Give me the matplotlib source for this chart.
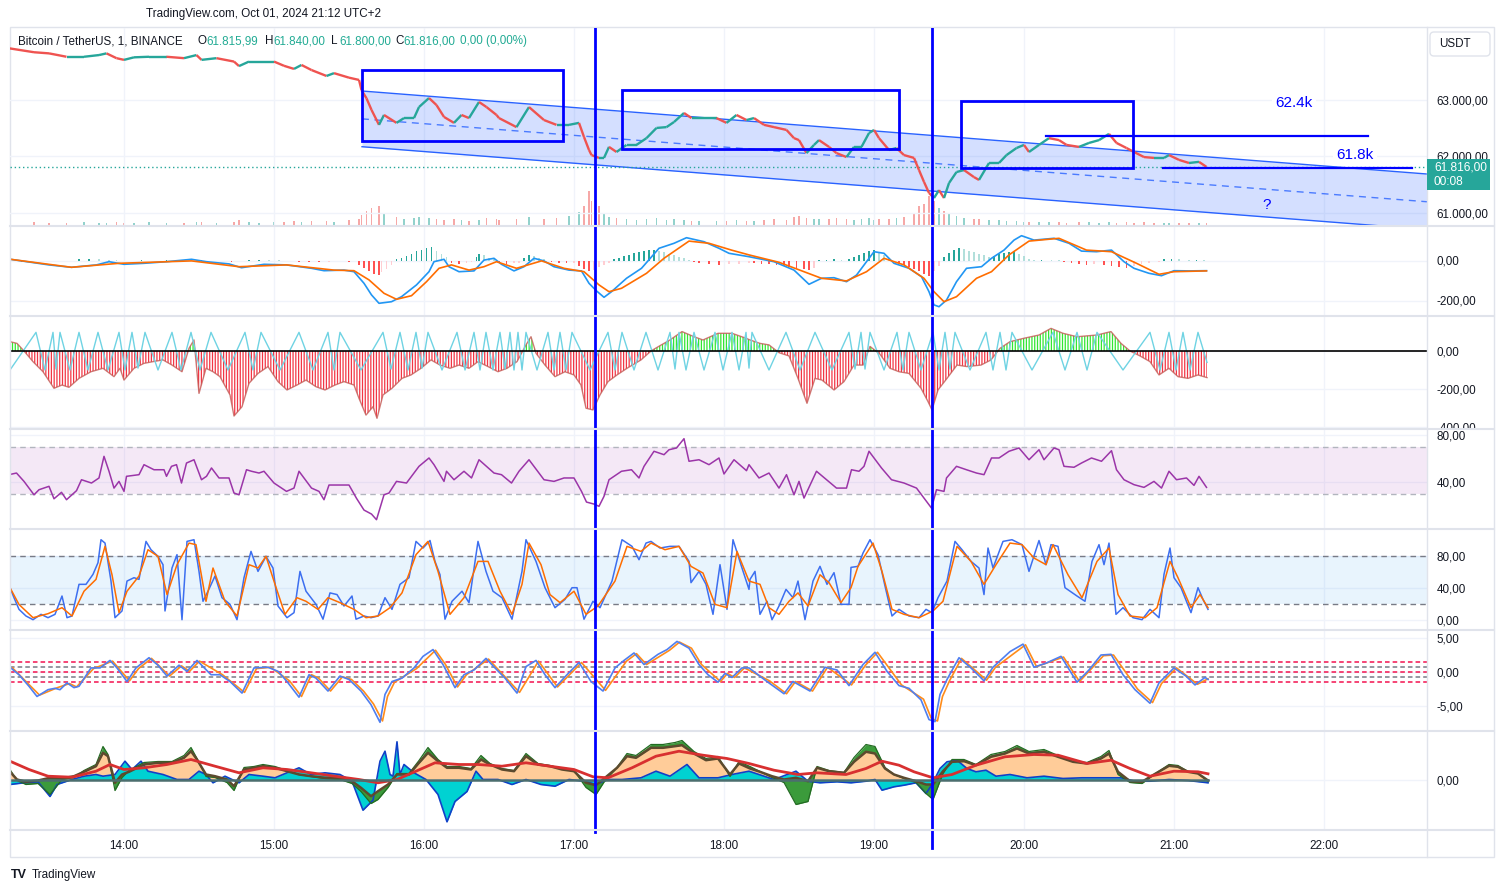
import numpy as np
import matplotlib
matplotlib.use("Agg")
import matplotlib.pyplot as plt
from matplotlib.collections import LineCollection
from matplotlib.patches import Rectangle, FancyBboxPatch
from matplotlib.lines import Line2D
from matplotlib.transforms import Bbox, TransformedBbox

plt.rcParams['font.family'] = ['Liberation Sans', 'DejaVu Sans']
plt.rcParams['hatch.linewidth'] = 0.9

# === time axis: minutes after 13:00 ===
HOUR_T = [60, 120, 180, 240, 300, 360, 420, 480, 540]
HOUR_LABELS = ["14:00", "15:00", "16:00", "17:00", "18:00", "19:00", "20:00", "21:00", "22:00"]

# === price (closes) ===
PRICE_T = [14, 24, 30, 37, 44, 50, 53, 57, 60, 64,
           70, 77, 84, 89, 91, 97, 104, 106, 110, 114,
           120, 124, 128, 131, 135, 141, 144, 150, 154, 155,
           157, 159, 162, 164, 169, 172, 176, 178, 182, 185,
           188, 192, 195, 198, 202, 205, 209, 210, 217, 222,
           228, 233, 238, 242, 244, 246, 247, 250, 252, 254,
           257, 261, 265, 269, 273, 277, 280, 284, 287, 290,
           297, 301, 305, 309, 312, 316, 320, 325, 328, 330,
           333, 336, 338, 342, 345, 349, 352, 355, 358, 360,
           362, 366, 369, 372, 376, 378, 380, 382, 384, 386,
           388, 390, 393, 396, 400, 402, 406, 410, 413, 417,
           420, 422, 426, 430, 434, 437, 442, 446, 450, 454,
           457, 461, 464, 468, 472, 476, 478, 482, 486, 490,
           493]
PRICE = [63915, 63845, 63825, 63765, 63765, 63795, 63825, 63740, 63710, 63755,
         63765, 63765, 63740, 63795, 63710, 63740, 63680, 63600, 63680, 63680,
         63680, 63605, 63550, 63620, 63530, 63425, 63475, 63395, 63355, 63175,
         63030, 62825, 62560, 62735, 62595, 62680, 62680, 62875, 63035, 62910,
         62700, 62595, 62735, 62680, 62965, 62875, 62735, 62680, 62520, 62875,
         62645, 62560, 62560, 62595, 62345, 62115, 62025, 61975, 61975, 62170,
         62080, 62205, 62205, 62325, 62505, 62520, 62610, 62770, 62680, 62680,
         62680, 62595, 62735, 62645, 62680, 62560, 62520, 62470, 62325, 62290,
         62060, 62205, 62290, 62170, 62060, 61990, 62170, 62170, 62415, 62470,
         62325, 62115, 62150, 62025, 61975, 61760, 61550, 61355, 61265, 61405,
         61265, 61530, 61725, 61760, 61635, 61585, 61885, 61885, 62025, 62150,
         62205, 62080, 62205, 62325, 62290, 62205, 62170, 62240, 62290, 62400,
         62240, 62150, 62080, 61990, 61975, 61975, 62025, 61940, 61885, 61905,
         61816]
VOLUME = [30, 40, 30, 35, 40, 30, 35, 40, 30, 35,
          40, 30, 35, 45, 40, 35, 40, 60, 45, 35,
          40, 45, 50, 40, 55, 50, 45, 60, 70, 110,
          150, 180, 200, 130, 90, 70, 80, 90, 80, 70,
          60, 70, 60, 55, 60, 80, 70, 60, 75, 90,
          70, 80, 100, 140, 200, 350, 250, 200, 120, 90,
          80, 70, 60, 70, 80, 60, 70, 60, 50, 55,
          50, 55, 60, 50, 55, 60, 70, 60, 90, 100,
          80, 70, 75, 70, 80, 70, 60, 70, 80, 60,
          70, 75, 80, 90, 120, 200, 220, 300, 250, 180,
          150, 120, 100, 80, 70, 75, 60, 60, 55, 50,
          45, 40, 45, 40, 40, 35, 40, 40, 35, 40,
          35, 40, 35, 40, 35, 30, 35, 30, 35, 30,
          30]
LAST_PRICE = 61816

# drawings on the price pane
CH_T = [155.2, 581.2]
CH_TOP = [63159, 61690]
CH_MID = [62666, 61199]
CH_BOT = [62173, 60708]
BOX_T = [(155.2, 235.6), (259.2, 370.0), (394.8, 463.6)]
BOX_P = [(62274, 63531), (62133, 63177), (61796, 62982)]
HLINE_T = [(428.8, 557.6), (475.6, 575.2)]
HLINE_P = [62368, 61796]
NOTE_T = [528.0, 552.4, 517.2]
NOTE_P = [62947, 62027, 61142]
NOTE_TXT = ["62.4k", "61.8k", "?"]
VLINE_T = [248.4, 383.2]

# === MACD ===
MACD_T = [14, 30, 39, 49, 54, 60, 68, 77, 87, 93,
          102, 107, 116, 125, 135, 140, 148, 152, 156, 159,
          162, 167, 171, 177, 182, 184, 188, 190, 194, 200,
          204, 208, 211, 216, 220, 224, 228, 232, 238, 243,
          246, 249, 252, 255, 261, 267, 274, 280, 285, 292,
          298, 302, 310,
          320, 328, 334, 339, 344, 349, 353, 357, 360, 364,
          368, 374, 379, 382, 384, 386, 389, 393, 397, 403,
          407, 412, 416, 419, 424, 432, 438, 443, 449, 455,
          460, 464, 470, 475, 480, 486, 493]
MACD = [7, -22, -34, -22, -6, -19, -14, -6, 6, -6,
        -17, -36, -19, -22, -39, -51, -48, -56, -114, -172,
        -214, -206, -181, -122, -56, -6, 6, -31, -56, -52,
        2, 11, -19, -52, -31, 11, -2, -31, -48, -52,
        -114, -152, -184, -156, -89, -39, 61, 86, 114, 94,
        61, 36, 19,
        -6, -48, -119, -89, -86, -106, -73, -6, 44, 36,
        -14, -39, -81, -156, -222, -231, -198, -106, -39, -31,
        11, 52, 102, 124, 102, 111, 86, 47, 44, 52,
        -6, -39, -64, -76, -51, -52, -51]
SIGNAL_T = [14, 39, 58, 87, 106, 125, 144, 152, 158, 164,
            169, 175, 181, 186, 191, 198, 204, 209, 217, 227,
            236, 244, 250, 254, 259, 269, 276, 286, 294, 303,
            310, 322, 332, 339, 349, 357, 364, 372, 380, 384,
            388, 393, 401, 407, 414, 422, 434, 445, 455, 465,
            474, 480, 493]
SIGNAL = [7, -34, -14, -2, -31, -22, -48, -51, -97, -164,
          -194, -176, -106, -39, -22, -48, -31, -6, -39, -2,
          -39, -56, -122, -156, -139, -64, 11, 97, 86, 52,
          28, -9, -56, -89, -102, -56, 11, -22, -89, -156,
          -206, -181, -89, -56, 28, 97, 111, 52, 44, -14,
          -69, -56, -52]
HIST_T = [14, 19, 24, 29, 34, 39,
          42, 46, 50, 54,
          57, 62, 67, 72, 77, 82, 87, 91,
          95, 99, 103, 107,
          110, 114, 118, 122,
          126, 130, 134, 138, 142, 146, 150,
          154, 156, 158, 160, 162,
          163, 165, 167,
          169, 171, 173, 175, 177, 179, 181, 183,
          185, 187, 189,
          191, 194, 197, 199,
          201, 202, 204,
          206, 208,
          210, 213, 216, 218,
          220, 222, 224,
          226, 228,
          231, 234, 237, 240,
          242, 244, 246, 248, 250, 252, 254,
          256, 258, 260, 262, 264, 266, 268, 270, 272,
          274, 276, 278, 280, 282, 284, 286,
          288, 290, 294, 298, 302, 306, 310,
          312, 315, 318, 321, 324, 326, 329, 332, 334, 336,
          338, 341, 344, 347,
          350, 352, 354, 356, 358, 360,
          362, 364, 366,
          368, 370, 372, 374, 376, 378, 380, 382,
          384, 386,
          388, 390, 392, 394,
          396, 398, 400, 402, 404, 406,
          408, 410, 412, 414, 416,
          418, 420, 422,
          424, 427, 431, 434,
          436, 439, 442, 445, 448, 452, 455, 458, 461, 464,
          467, 470, 474,
          476, 479, 482, 486, 489, 492]
HIST = [-4, -5, -4, -3, -4, -3,
        6, 9, 8, 5,
        2, -2, 3, -2, 2, 3, -2, 2,
        -4, -3, -5, -4,
        3, 4, 3, 2,
        -4, -5, -5, -6, -5, -4, -5,
        -20, -36, -53, -66, -70,
        -55, -40, -20,
        8, 14, 25, 35, 46, 55, 62, 66,
        50, 35, 20,
        -10, -15, -12, -8,
        20, 35, 30,
        15, 8,
        -10, -15, -14, -10,
        15, 30, 25,
        12, 6,
        -8, -10, -12, -10,
        -25, -40, -53, -45, -30, -20, -10,
        10, 15, 22, 30, 38, 45, 50, 55, 55,
        48, 42, 35, 28, 20, 12, 5,
        -5, -10, -15, -20, -18, -15, -12,
        -12, -15, -18, -20, -25, -30, -36, -42, -45, -35,
        4, 5, 6, 4,
        10, 18, 28, 38, 46, 52,
        40, 28, 15,
        -5, -12, -20, -30, -40, -52, -65, -78,
        -50, -25,
        20, 40, 55, 65,
        58, 50, 42, 35, 28, 20,
        25, 32, 38, 44, 46,
        35, 22, 10,
        3, 4, 3, 2,
        -6, -10, -15, -20, -18, -22, -28, -34, -36, -25,
        -15, -10, -5,
        6, 7, 6, 5, 5, 4]

# === momentum histogram + fast cyan oscillator ===
MOM_T = [14.4, 17.2, 20, 23.6, 27.6, 32, 35.2, 38, 42, 46.8,
         51.6, 56, 58.4, 60, 64, 68, 71.6, 75.6, 79.2, 83.2,
         86, 88, 90, 92.8, 95.6, 98.4, 102.4, 104, 107.2, 110,
         113.6, 117.6, 121.6, 125.2, 129.2, 132.8, 136.8, 140.4, 144.4, 148,
         152, 154, 156.8, 159.6, 161.2, 163.6, 167.2, 171.2, 174.8, 178.8,
         182.8, 186.4, 190.4, 194, 198, 201.6, 205.6, 209.6, 213.2, 217.2,
         220.8, 222.8, 224.8, 228.4, 232.4, 236.4, 240, 242.8, 244.8, 247.6,
         250.4, 253.6, 257.2, 261.2, 266.8, 270.8, 274.4, 278.4, 283.2, 288,
         291.6, 297.6, 303.2, 308.8,
         310.4, 314.4, 318, 322, 326, 329.6, 333.2, 336.4, 339.2, 344,
         348, 352, 355.6, 358.4, 362.4, 366.4, 370, 374, 378.8, 381.6,
         383.2, 385.6, 389.2, 393.2, 397.2, 402.8, 406.8, 410.4, 414.4, 420,
         426, 430.8, 435.6, 441.2, 449.2, 454.8, 458.8, 462.4, 466.4, 470.4,
         474, 478, 481.6, 485.6, 489.6, 493.2]
MOM = [49, 40, 0, -56, -109, -196, -179, -191, -144, -109,
       -91, -135, -91, -153, -91, -65, -56, -47, -74, -109,
       14, 58, -223, -91, -109, -135, -231, -342, -293, -170,
       -118, -82, -161, -205, -179, -153, -188, -205, -179, -161,
       -179, -249, -337, -293, -354, -231, -196, -144, -126, -91,
       -47, -74, -91, -74, -91, -56, -82, -109, -91, -56,
       32, 75, -12, -74, -135, -109, -126, -179, -301, -310,
       -231, -161, -126, -91, -47, 0, 28, 58, 102, 75,
       58, 93, 93, 67,
       58, 40, 32, -9, -26, -144, -275, -144, -153, -205,
       -161, -74, -74, 24, -17, -91, -109, -118, -196, -266,
       -310, -205, -144, -74, -82, -74, -47, 14, 49, 67,
       84, 119, 93, 75, 84, 102, 40, 0, -26, -56,
       -126, -91, -135, -144, -126, -140]
FAST_T = [14.4, 24.8, 28.4, 31.6, 32.8, 34.4, 38.4, 42, 45.6, 49.6,
          53.6, 58, 60.4, 63.2, 65.6, 68.4, 73.6, 79.2, 82.8, 86.8,
          90.4, 94.8, 101.6, 108.4, 111.6, 114.8, 122.4, 130, 135.6, 141.6,
          144, 146.4, 154.8, 163.6, 166.8, 170.4, 173.6, 176.8, 179.2, 181.6,
          187.2, 193.2, 196.4, 200, 202.4, 204.8, 207.6, 210.4, 212.4, 214.4,
          216, 217.6, 219.2, 220.8, 225.2, 229.6, 232, 234.4, 236.8, 239.2,
          246.4, 253.6, 256.4, 259.2, 264, 268.8, 273.6, 278.4, 280.4, 282,
          284.8, 288, 292, 296.4, 299.6, 303.2, 306, 308.8, 310, 311.2,
          318, 324.8, 330.4, 336.4, 343.2, 350, 352.4, 354.8, 356.4, 358.4,
          364, 369.2, 371.6, 374, 378.8, 383.6, 386, 388.4, 390.4, 392.4,
          398.4, 404.8, 407.6, 410.4, 412.8, 415.2, 423.2, 431.6, 436.4, 441.2,
          445.2, 449.2, 459.6, 470.4, 474.4, 478, 480.8, 483.6, 486.4, 489.6,
          493.2]
FAST = [-100, 98, -100, 98, -95, 98, -100, 98, -100, 98,
        -100, 98, -100, 98, -90, 98, -100, 98, -100, 98,
        -100, 98, -100, 98, -100, 98, -100, 98, -100, 98,
        -100, 98, -100, 98, -95, 98, -100, 98, -90, 98,
        -100, 98, -100, 98, -100, 98, -100, 98, -95, 98,
        -100, 98, -100, 98, -100, 98, -100, 98, -100, 98,
        -100, 98, -100, 98, -100, 98, -100, 98, -95, 98,
        -100, 98, -100, 98, -100, 98, -100, 98, -90, 98,
        -100, 98, -100, 98, -100, 98, -95, 98, -95, 98,
        -100, 98, -100, 98, -100, 98, -100, 98, -95, 98,
        -100, 98, -100, 98, -100, 98, -100, 98, -100, 98,
        -100, 98, -100, 98, -100, 98, -100, 98, -100, 98,
        -60]

# === RSI ===
RSI_T = [14, 17, 20, 24, 26, 30, 32, 35, 37, 41,
         43, 47, 50, 52, 54, 56, 58, 60, 61, 66,
         68, 72, 76, 77, 79, 81, 83, 85, 88, 91,
         93, 95, 98, 102, 104, 106, 109, 111, 114, 116,
         120, 125, 128, 130, 135, 138, 140, 142, 146, 150,
         153, 156, 159, 161, 164, 166, 169, 173, 178, 182,
         184, 188, 189, 192, 196, 199, 202, 205, 208, 211,
         215, 218, 222, 225, 228, 232, 236, 240, 243, 245,
         248, 250, 252, 254, 259, 263, 266, 268, 272, 276,
         278, 281, 284, 286, 290, 294, 298, 300, 304, 309,
         310, 314, 318, 322, 325, 328, 330, 332, 337, 341,
         345, 349, 351, 354, 356, 358, 363, 367, 372, 377,
         380, 383, 385, 388, 389, 393, 397, 401, 404, 407,
         410, 414, 418, 422, 426, 428, 432, 434, 436, 440,
         443, 447, 451, 455, 457, 460, 464, 468, 472, 475,
         478, 481, 485, 488, 490, 493]
RSI = [46.5, 47.9, 40.8, 29.4, 33.7, 36.6, 26, 31.5, 25.2, 32.9,
       42.2, 39.4, 43.7, 62.1, 49.4, 35.1, 40.8, 32.3, 45.1, 46.5,
       55, 50.7, 50.7, 45.1, 53.6, 55, 39.4, 56.4, 59.2, 42.2,
       45.1, 52.2, 43.7, 43.7, 30.9, 29.4, 50.7, 49.4, 47.9, 49.4,
       39.4, 32.3, 35.1, 49.4, 35.1, 32.3, 25.2, 37.7, 37.7, 37.7,
       26.4, 16.4, 13, 8.2, 29.4, 30.9, 40.8, 39.4, 53.6, 60.7,
       55, 40.8, 49.4, 42.2, 49.4, 43.7, 59.2, 53.6, 47.9, 46.5,
       39.4, 49.4, 59.2, 50.7, 42.2, 40.8, 43.7, 43.7, 32.3, 23.2,
       21.5, 19.6, 28.1, 42.2, 49.4, 50.7, 43.7, 53.6, 66.4, 63.5,
       67.7, 69.2, 77.1, 57.9, 59.2, 55, 60.7, 47.1, 59.2, 49.9,
       55, 43.7, 47.9, 35.1, 46.5, 29.4, 40.8, 26.6, 49.4, 42.2,
       35.1, 35.1, 50.7, 49.4, 53.6, 66.4, 52.2, 42.2, 39.4, 35.1,
       26.6, 18.1, 33.7, 32.3, 43.7, 53.6, 50.7, 47.9, 46.5, 60.7,
       60.7, 66.4, 69.2, 59.2, 67.7, 59.2, 69.2, 67.7, 53.6, 52.8,
       56.4, 60.7, 57.9, 66.9, 50.7, 42.2, 38, 35.7, 40.8, 35.1,
       49.4, 42.2, 43.7, 37.4, 45.1, 35.7]

# === Stochastic ===
K_T = [14.4, 16, 18, 20.8, 23.6, 26.8, 29.6, 32.4, 35.2, 37.2,
       39.2, 42, 44.8, 47.6, 49.6, 50.8, 52.4, 54.8, 56.4, 59.2,
       61.2, 64, 66, 68.8, 70.8, 73.6, 75.6, 76.4, 79.2, 81.2,
       83.2, 85.2, 88, 90, 91.6, 93.6, 96.4, 99.2, 102.4, 105.2,
       108, 110.8, 113.6, 116.8, 119.6, 121.6, 125.2, 128, 130.4, 132.8,
       136.8, 139.6, 142.4, 145.2, 148, 151.2, 152.8, 156, 158.8, 161.6,
       164.4, 167.2, 170.4, 174, 176.8, 179.6, 182.4, 184.4, 186.4, 188.4,
       191.2, 195.2, 198, 201.6, 204.8, 207.6, 211.2, 215.2, 219.2, 220.8,
       224.8, 228.4, 232.4, 236.4, 239.2, 241.2, 244, 247.6, 250.4, 255.2,
       259.2, 263.2, 266, 268.8, 270.8, 274.4, 278.4, 282, 286, 286.8,
       290, 292.8, 295.6, 298.4, 301.2, 303.6, 307.2, 310,
       310.4, 312.4, 314.4, 317.2, 319.2, 322, 324.8, 327.6, 329.6, 332.4,
       335.6, 338.4, 341.2, 344, 346.8, 350, 350.8, 353.6, 355.6, 358.4,
       361.6, 364.4, 367.2, 370, 374, 378, 380.8, 383.2, 385.6, 389.2,
       392.4, 395.2, 398.8, 402, 404, 405.6, 407.6, 411.6, 415.2, 419.2,
       422, 426, 428.8, 430.8, 433.6, 436.4, 441.2, 444.4, 447.2, 450,
       452, 454, 456.8, 459.6, 463.6, 467.2, 470.4, 474, 476, 478.4,
       480, 482.8, 486.8, 489.6, 491.6, 493.6]
K = [40, 27.5, 12.9, 4.6, 0, 6.7, 2.5, 6.7, 29.6, 2.5,
     4.6, 44.2, 44.2, 56.7, 71.3, 100, 95.8, 48.3, 2.5, 10.9,
     48.3, 52.5, 50.4, 97.9, 87.5, 79.2, 68.8, 10.9, 64.6, 81.3,
     0, 97.9, 100, 60.4, 23, 35.6, 54.6, 27.5, 19.2, 0,
     52.5, 85.4, 60.4, 79.2, 64.6, 17.1, 2.5, 8.8, 60.4, 35.6,
     19.2, 0.6, 33.5, 31.4, 17.1, 29.6, 0.6, 4.6, 2.5, 4.6,
     27.5, 12.9, 44.2, 52.5, 97.9, 89.6, 99, 72.9, 56.2, 0.6,
     23, 35.6, 21.3, 97.9, 60.4, 35.6, 27.5, 0.6, 60.4, 100,
     72.9, 40, 15, 25.4, 40, 40, 0.6, 23, 15, 48.3,
     100, 91.7, 75, 95.8, 97.9, 89.6, 91.7, 91.7, 72.9, 46.3,
     60.4, 44.2, 6.7, 68.8, 12.9, 100, 64.6, 37.9,
     50.4, 60.4, 6.7, 23, 0, 17.1, 37.9, 27.5, 48.3, 0,
     48.3, 66.7, 44.2, 58.8, 19.2, 19.2, 65.4, 66.7, 83.3, 100,
     81.3, 42.1, 4.6, 12.9, 4.6, 2.5, 12.9, 8.8, 27.5, 48.3,
     97.9, 87.5, 72.9, 64.6, 31.4, 89.6, 64.6, 97.9, 100, 93.8,
     60.4, 99, 68.8, 93.8, 91.7, 40, 29.6, 23, 72.9, 93.8,
     68.8, 95.8, 6.7, 15, 2.5, 0, 12.9, 2.5, 56.7, 89.6,
     52.5, 40, 8.8, 40, 25.4, 12.9]
D_T = [14.4, 18, 23.6, 29.6, 35.2, 39.2, 44, 48.8, 52.4, 55.2,
       58, 61.2, 66, 69.6, 73.6, 77.2, 81.2, 86, 88.8, 92.8,
       95.6, 100.4, 105.2, 110, 113.6, 116.8, 120.4, 124.4, 129.2, 132.8,
       137.6, 141.6, 146.4, 152, 156.8, 161.6, 166.4, 171.2, 176.8, 181.6,
       185.6, 190.4, 196, 201.6, 205.6, 210.4, 215.2, 219.2, 222, 226.8,
       230.4, 234.4, 240, 244.8, 249.6, 256.4, 261.2, 266.8, 270.8, 276.4,
       282, 286.8, 291.6, 296.4, 301.2, 305.2, 310,
       314.4, 318, 322, 326, 329.6, 333.6, 338.4, 342, 346.8, 350.8,
       353.6, 359.6, 363.2, 367.2, 372, 378, 383.6, 387.6, 393.2, 398.8,
       404, 408.8, 414.4, 419.2, 424, 428.8, 431.6, 437.6, 443.2, 449.2,
       454, 457.6, 462.4, 468.4, 473.2, 478.4, 481.6, 486.8, 490.4, 493.6]
D = [40, 19, 2.5, 7.5, 15, 4.6, 35.6, 50.4, 91.7, 56.2,
     8.8, 35.6, 54.6, 87.5, 79.2, 31.4, 68.8, 95.8, 93.8, 23,
     64.6, 23, 4.6, 68.8, 64.6, 79.2, 44.2, 6.7, 27.5, 23,
     12.9, 27.5, 21.3, 12.9, 2.5, 4.6, 15, 33.5, 81.3, 97.9,
     60.4, 6.7, 27.5, 72.9, 72.9, 35.6, 6.7, 44.2, 95.8, 68.8,
     31.4, 21.3, 35.6, 6.7, 17.1, 48.3, 91.7, 85.4, 95.8, 87.5,
     91.7, 66.7, 58.3, 19.2, 15, 85.4, 48.3,
     44.2, 15, 6.7, 23, 33.5, 17.1, 56.2, 46.3, 21.3, 40,
     66.7, 95.8, 60.4, 12.9, 6.7, 2.5, 10.9, 23, 91.7, 72.9,
     44.2, 68.8, 95.8, 93.8, 77.1, 68.8, 93.8, 56.2, 27.5, 72.9,
     89.6, 31.4, 4.6, 2.5, 15, 72.9, 52.5, 15, 31.4, 15]

# === wave oscillator ===
WAVE_T = [14.4, 18, 22, 25.2, 29.6, 32.4, 34.4, 37.2, 40, 42,
          46.8, 50.4, 54.4, 57.2, 61.2, 64.8, 70, 73.6, 77.2, 82,
          85.2, 89.2, 94.8, 98.4, 102.4, 107.2, 112, 117.6, 121.6, 125.2,
          130, 134, 136.8, 141.6, 146.4, 150, 154.8, 158.8, 162.4, 164.4,
          167.2, 171.2, 176, 179.6, 183.6, 187.6, 192.4, 196, 200, 204.8,
          208.4, 212.4, 217.2, 220.8, 224.8, 228.4, 232.4, 237.2, 242, 246.8,
          251.6, 256.4, 260, 264, 268, 273.6, 277.2, 281.2, 286, 290,
          293.6, 297.6, 300.4, 303.2, 307.2, 310,
          317.2, 324, 327.6, 334.4, 340.4, 345.2, 350, 355.6, 360.4, 365.2,
          370, 374, 378.8, 382, 384.4, 386.4, 389.2, 394, 398.8, 404,
          407.6, 414.4, 419.6, 424, 428.8, 434.8, 441.2, 446, 450.8, 454.8,
          459.6, 464.4, 470.4, 474, 480, 484.8, 488.4, 492.4, 493.6]
WAVE = [0.7, -0.4, -2.1, -3.6, -2.6, -2.4, -2.6, -1.6, -2.3, -2.1,
        0.6, 0.6, 1.7, 0.6, -1.4, 0.6, 2.1, 1.0, -0.6, 1.0,
        0.1, 1.7, -0.4, -0.4, -1.4, -3.1, 0.6, 0.7, 0.1, -1.4,
        -3.7, -0.4, -0.9, -2.8, -0.6, -1.1, -2.8, -4.8, -7.4, -3.3,
        -1.4, -0.9, 0.6, 2.3, 3.3, 1.1, -2.3, -0.4, 0.3, 2.0,
        0.6, -0.9, -3.1, 0.8, 1.7, -0.4, -2.3, -0.4, 1.4, -1.4,
        -2.8, 0.6, 1.7, 2.8, 1.1, 2.6, 3.3, 4.5, 3.5, 1.1,
        -0.4, -1.5, -0.2, -0.8, 0.6, 0.6,
        -1.4, -3.2, -1.4, -2.8, 0.7, 0.3, -2.0, 1.1, 2.9, 0.1,
        -2.0, -2.4, -4.1, -7.0, -7.3, -3.3, -1.1, 2.1, 0.6, -1.3,
        0.7, 3.0, 4.1, 0.7, 1.3, 2.3, -1.5, 0.3, 2.5, 2.6,
        -0.4, -2.6, -4.6, -1.6, 0.6, -0.6, -1.9, -0.8, -1.1]
WAVE_SIG_T = [15.4, 26.2, 33.4, 38.2, 41, 47.8, 55.4, 62.2, 65.8, 71,
              78.2, 83, 86.2, 90.2, 99.4, 108.2, 113, 118.6, 126.2, 131,
              135, 137.8, 142.6, 147.4, 151, 155.8, 159.8, 163.4, 165.4, 168.2,
              177, 184.6, 188.6, 193.4, 197, 205.8, 218.2, 225.8, 233.4, 243,
              252.6, 261, 265, 269, 278.2, 282.2, 287, 291, 298.6, 301.4,
              304.2, 308.2, 318.2, 325, 328.6, 335.4, 341.4, 351, 356.6, 361.4,
              371, 379.8, 383, 385.4, 387.4, 390.2, 395, 405, 408.6, 420.6,
              425, 435.8, 442.2, 451.8, 455.8, 465.4, 471.4, 475, 481, 489.4,
              493.6]
WAVE_SIG = [0.6, -3.4, -2.3, -1.7, -2.2, 0.5, 1.6, -1.3, 0.5, 2.0,
            -0.6, 0.9, 0.1, 1.6, -0.4, -3.0, 0.5, 0.7, -1.3, -3.6,
            -0.4, -0.9, -2.8, -0.7, -1.1, -2.8, -4.7, -7.2, -3.6, -1.5,
            0.5, 3.2, 1.1, -2.2, -0.4, 1.9, -3.0, 1.6, -2.2, 1.4,
            -2.7, 1.6, 2.7, 1.1, 3.2, 4.4, 3.5, 1.1, -1.4, -0.2,
            -0.8, 0.6, -1.3, -3.2, -1.4, -2.8, 0.7, -1.9, 1.0, 2.9,
            -1.9, -4.0, -6.9, -7.2, -3.6, -1.3, 2.0, -1.2, 0.7, 4.0,
            0.8, 2.2, -1.4, 2.4, 2.5, -2.5, -4.5, -1.7, 0.6, -1.8,
            -1.0]
WAVE_LEVELS_RED = [1.5, 0.0, -1.5]
WAVE_LEVELS_GREY = [0.75, -0.75]

# === bottom pane: flow areas ===
FLOW_T = [14.4, 17.2, 20.8, 25.6, 30.4, 35.2, 40, 44, 48.8, 51.6,
          53.6, 56.4, 59.2, 62, 68, 73.6, 79.2, 84, 86.8, 89.2,
          92.8, 96.4, 101.2, 104, 108, 112, 115.6, 120.4, 125.2, 130,
          134.8, 140.4, 146.4, 151.2, 154.8, 158.8, 161.6, 165.6, 169.2, 174,
          178, 181.6, 185.6, 189.2, 194, 198.8, 202.8, 206.4, 211.2, 216,
          220.8, 225.6, 230.4, 235.2, 240, 244.8, 248.8, 252.4, 257.2, 261.2,
          264.8, 270.8, 275.6, 280.4, 283.2, 288, 292.8, 297.6, 302.4, 306,
          310.4, 314.4, 319.2, 324, 328.8, 333.6, 337.2, 342, 348, 352,
          356.8, 360.4, 364.4, 368, 372, 376.8, 380.8, 383.6, 387.6, 391.2,
          396, 400.8, 406.8, 412.4, 417.2, 422, 428, 433.6, 439.6, 445.2,
          450.8, 454, 457.6, 462.4, 467.2, 472, 478, 481.6, 485.6, 489.6,
          493.6]
FLOW = [7.7, 0, -2.3, -1, 1.7, 1, 3.3, 7.7, 13.3, 26.7,
        23.3, -3.3, 5, 7.7, 15, 16.7, 16.7, 21.7, 28.3, 20,
        5, 3.3, 0, -6.7, 10, 11.7, 13.3, 11.7, 8.3, 5,
        3.3, 1.7, 1.7, -1.7, -8.3, -16.7, -11.7, -5, 5, 5,
        16.7, 26.7, 18.3, 11.7, 11.7, 10, 20, 15, 10, 8.3,
        23.3, 15, 13.3, 10, 8.3, -3.3, -5.7, 1.7, 11.7, 23.3,
        21.7, 31.7, 31.7, 33.3, 34.3, 26, 19.3, 21, 5, 16,
        11, 7.7, 3.3, 0, 1.7, -1.7, 11.7, 8.3, 6.7, 17.7,
        27.7, 26, 11, 5, 1.7, -1.7, -5, -5, 8.3, 17.7,
        18.3, 14.3, 22.7, 26, 31, 26, 27.7, 22.7, 17.7, 16,
        21, 26, 7.7, -1.7, -2.3, 5, 13.7, 12.7, 7.7, 6,
        -1]
FLOW_FAST = [10, -1, -5, -4, -15, 0, 2, 9, 15, 33,
             25, -11, 2, 9, 17, 18, 18, 24, 32, 21,
             3, 2, -3, -11, 12, 13, 15, 13, 9, 5,
             3, 1, 0, -4, -12, -24, -20, -8, 6, 6,
             19, 32, 20, 13, 13, 11, 24, 16, 11, 9,
             26, 16, 14, 11, 9, -8, -15, -1, 12, 26,
             24, 35, 35, 37, 39, 28, 21, 23, 3, 18,
             13, 8, 2, -3, -25, -22, 13, 9, 7, 22,
             35, 33, 12, 5, 1, -3, -14, -20, 6, 20,
             20, 15, 25, 28, 34, 28, 30, 24, 18, 17,
             23, 29, 5, -3, -4, 5, 15, 14, 8, 6,
             -2]
DELTA_T = [14.4, 20, 25.6, 30.4, 33.2, 39.2, 44, 48.8, 51.6, 56.4,
           60.4, 63.2, 66.8, 69.6, 75.6, 81.2, 86, 90, 92.8, 95.6,
           100.4, 106, 110, 115.6, 120.4, 125.2, 130, 134.8, 140.4, 146.4,
           151.2, 155.6, 159.6, 162.4, 164.4, 166.4, 167.6, 169.2, 170.4, 172,
           176, 180.8, 185.6, 189.2, 192.4, 197.2, 200.8, 203.6, 209.6, 215.2,
           220.8, 226.8, 232.4, 238, 244, 248.8, 253.6, 259.2, 266.8, 272.8,
           278.4, 285.2, 290, 297.6, 303.2, 310,
           320, 328.8, 333.6, 338.4, 345.2, 350.8, 356.8, 360.4, 363.2, 368,
           372, 376.8, 380.8, 383.2, 386.4, 389.2, 393.2, 397.2, 400.8, 404.8,
           408.8, 414.4, 421.2, 428, 435.6, 443.2, 450.8, 458.8, 464.4, 470.4,
           478, 485.6, 493.6]
DELTA = [-5, -3.3, -2.3, -17, -5, 0, 3.3, 5, 3.3, 5,
         18.3, 10, 18.3, 8.3, 5, 0, 0, 8.3, 5, -3.3,
         3.3, -3.3, 5, 3.3, 1.7, 6.7, 11.7, 5, 6.7, 5,
         -1.7, -30.7, -20.7, 18.3, 28.3, 5, 3.3, 37.7, 5, 15,
         6.7, 0, -15, -42.3, -22, -12, 8.3, 0, 0, -5,
         0, -5, -6.7, 0, -1.7, -5, 0, 0, 1.7, 8.3,
         3.3, 15, 1.7, 1.7, 5, 8.3,
         0, 8.3, -1.7, -3.3, -2.3, -3.3, -1.7, 0, -10.7, -7.3,
         -5.7, -3.3, -14, -5, 11, 17.7, 19.3, 11, 7.7, 9.3,
         3.3, 5, 1.7, 3.3, 1, 1.7, 1.7, 1.7, -1.7, -1.7,
         0, -1, -3.3]
FLOW_MA_T = [14.4, 22, 29.6, 39.2, 48.8, 54.4, 60, 68, 77.2, 86.8,
             96.4, 106, 115.6, 125.2, 134.8, 144.4, 154, 161.6, 169.2, 176.8,
             184.4, 194, 201.6, 211.2, 220.8, 230.4, 240, 247.6, 253.6, 263.2,
             272.8, 282, 291.6, 301.2, 310,
             320, 329.6, 337.2, 348.8, 356.8, 363.2, 370, 376, 383.6, 391.2,
             400.8, 412.4, 424, 433.6, 445.2, 454.8, 462.4, 470.4, 480, 489.6,
             493.6]
FLOW_MA = [18.3, 10, 3.3, 2.3, 8.3, 15, 10, 11.7, 15, 20,
           13.3, 6.7, 11.7, 10, 6.7, 3.3, 0, -3.3, 0, 8.3,
           16.7, 15, 15, 13.3, 16.7, 13.3, 10, 2.7, 1.7, 11.7,
           23.3, 28.3, 24.3, 21, 16,
           9.3, 5, 6.7, 5, 11, 18.3, 14.3, 7.7, 1.7, 5,
           14.3, 22.7, 25, 24.3, 16, 19.3, 11, 3.3, 8.3, 7.7,
           5.7]

# === colours ===
TXT = "#131722"
GRID = "#f0f3fa"
BORDER = "#e0e3eb"
UP = "#26a69a"
DN = "#ef5350"
DRAW = "#0000ff"
CHAN = "#2962ff"

W, H = 1504, 893
fig = plt.figure(figsize=(W / 100, H / 100), dpi=100)
fig.patch.set_facecolor("white")


def fx(px):
    return px / W


def fy(py):
    return 1 - py / H


def fmt(v):
    s = f"{v:,.2f}"
    return s.replace(",", "X").replace(".", ",").replace("X", ".")


X0, X1 = 10, 1427
T0, T1 = 14.4, 581.2


def right_ticks(ax, ticks):
    ax.yaxis.tick_right()
    ax.set_yticks(ticks)
    ax.set_yticklabels([fmt(v) for v in ticks])
    ax.tick_params(axis='y', length=0, pad=7, labelsize=8.4, labelcolor=TXT,
                   labelleft=False, labelright=True)


def pane(top, bottom, ylim, ticks):
    ax = fig.add_axes([fx(X0), fy(bottom), (X1 - X0) / W, (bottom - top) / H])
    ax.set_xlim(T0, T1)
    ax.set_ylim(*ylim)
    ax.set_xticks(HOUR_T)
    ax.tick_params(axis='x', length=0, labelbottom=False)
    right_ticks(ax, ticks)
    ax.grid(True, color=GRID, lw=1)
    ax.set_axisbelow(True)
    for s in ax.spines.values():
        s.set_visible(False)
    # price-scale labels stay inside their own pane row
    clip = TransformedBbox(Bbox([[fx(X1), fy(bottom)], [fx(1494), fy(top)]]), fig.transFigure)
    for lab in ax.get_yticklabels():
        lab.set_clip_box(clip)
        lab.set_clip_on(True)
    return ax


# === price pane ===
ax = pane(28, 226, (60770, 64274), [61000, 62000, 63000])
axv = ax.twinx()
axv.set_ylim(0, 2000)
axv.set_yticks([])
for s in axv.spines.values():
    s.set_visible(False)
right_ticks(ax, [61000, 62000, 63000])
ax.set_zorder(axv.get_zorder() + 1)
ax.patch.set_visible(False)

up = [True] + [b >= a for a, b in zip(PRICE[:-1], PRICE[1:])]
axv.bar(PRICE_T, VOLUME, width=0.7, color=[UP if u else DN for u in up], alpha=0.5, lw=0)

ax.fill_between(CH_T, CH_BOT, CH_TOP, color=CHAN, alpha=0.2, lw=0)
ax.plot(CH_T, CH_TOP, color=CHAN, lw=1)
ax.plot(CH_T, CH_BOT, color=CHAN, lw=1)
ax.plot(CH_T, CH_MID, color=CHAN, lw=1, ls=(0, (5, 4)), alpha=0.8)

pts = np.column_stack([PRICE_T, PRICE])
segs = np.stack([pts[:-1], pts[1:]], axis=1)
seg_cols = [UP if b >= a else DN for a, b in zip(PRICE[:-1], PRICE[1:])]
ax.add_collection(LineCollection(segs, colors=seg_cols, linewidths=1.7, zorder=4))

ax.axhline(LAST_PRICE, color=UP, lw=1, ls=(0, (1, 2)))

for (t0, t1), (p0, p1) in zip(BOX_T, BOX_P):
    ax.add_patch(Rectangle((t0, p0), t1 - t0, p1 - p0, fill=False, ec=DRAW, lw=2, zorder=5))
for (t0, t1), p in zip(HLINE_T, HLINE_P):
    ax.plot([t0, t1], [p, p], color=DRAW, lw=1.6, zorder=5)
for t, p, s in zip(NOTE_T, NOTE_P, NOTE_TXT):
    ax.text(t, p, s, color=DRAW, fontsize=11, ha='center', va='center', zorder=6,
            bbox=dict(boxstyle='square,pad=0.25', fc='white', ec='none') if s != "?" else None)

# === MACD pane ===
ax2 = pane(226, 316, (-277.5, 172.5), [0, -200])
hist_cols = []
prev = 0
for v in HIST:
    if v >= 0:
        hist_cols.append("#26a69a" if v >= prev else "#b2dfdb")
    else:
        hist_cols.append("#ff5252" if v <= prev else "#ffcdd2")
    prev = v
ax2.bar(HIST_T, HIST, width=0.6, color=hist_cols, lw=0)
ax2.plot(MACD_T, MACD, color="#2196f3", lw=1.2)
ax2.plot(SIGNAL_T, SIGNAL, color="#ff6d00", lw=1.2)

# === momentum pane ===
ax3 = pane(316, 428, (-405, 184), [0, -200, -400])
mom_t = np.array(MOM_T)
mom = np.array(MOM, dtype=float)
ax3.fill_between(mom_t, 0, mom, where=mom < 0, interpolate=True, facecolor='none',
                 edgecolor="#f23645", hatch='||||||', lw=0)
ax3.fill_between(mom_t, 0, mom, where=mom >= 0, interpolate=True, facecolor='none',
                 edgecolor="#33e633", hatch='||||||', lw=0)
ax3.plot(mom_t, mom, color="#c45a55", lw=1, alpha=0.8)
ax3.plot(FAST_T, FAST, color="#6fd3e3", lw=1, zorder=4)
ax3.axhline(0, color="black", lw=1.2, zorder=5)

# === RSI pane ===
ax4 = pane(428.7, 529, (0.3, 85.6), [80, 40])
ax4.axhspan(30, 70, color="#9c27b0", alpha=0.1, lw=0)
for lv in (70, 30):
    ax4.axhline(lv, color="#b2b5be", lw=1, ls=(0, (4, 3)))
ax4.plot(RSI_T, RSI, color="#9b35a8", lw=1.1)

# === stochastic pane ===
ax5 = pane(529, 630, (-12.9, 113.4), [80, 40, 0])
ax5.axhspan(20, 80, color="#2196f3", alpha=0.1, lw=0)
for lv in (80, 20):
    ax5.axhline(lv, color="#787b86", lw=1, ls=(0, (4, 3)))
ax5.plot(K_T, K, color="#3d6ff0", lw=1.1)
ax5.plot(D_T, D, color="#ff6d00", lw=1.1)

# === wave pane ===
ax6 = pane(630, 731, (-8.68, 6.18), [5, 0, -5])
for lv in WAVE_LEVELS_RED:
    ax6.axhline(lv, color="#f2124f", lw=1.1, ls=(0, (3, 2)))
for lv in WAVE_LEVELS_GREY:
    ax6.axhline(lv, color="#787b86", lw=1.1, ls=(0, (3, 2)))
ax6.plot(WAVE_SIG_T, WAVE_SIG, color="#ff8c1a", lw=1.2)
ax6.plot(WAVE_T, WAVE, color="#4f7ff0", lw=1.2)

# === flow pane ===
ax7 = pane(731, 830, (-50.5, 48.5), [0])
ft = np.array(FLOW_T)
fl = np.array(FLOW, dtype=float)
ff = np.array(FLOW_FAST, dtype=float)
ax7.fill_between(ft, 0, fl, where=fl > 0, interpolate=True, color="#ffcc99", lw=0)
ax7.fill_between(DELTA_T, 0, DELTA, color="#00d2d2", lw=0)
ax7.plot(DELTA_T, DELTA, color="#1040c8", lw=1.2)
ax7.fill_between(ft, fl, ff, color="#3b9b3b", lw=0)
ax7.plot(ft, ff, color="#236b23", lw=0.9)
ax7.plot(ft, fl, color="#5c4a2e", lw=1.8)
ax7.plot(FLOW_MA_T, FLOW_MA, color="#d83030", lw=2)
ax7.plot([FLOW_T[0], FLOW_T[-1]], [0, 0], color="#4c6e6e", lw=1.8)
ax7.set_xticklabels(HOUR_LABELS)
ax7.tick_params(axis='x', labelbottom=True, pad=7, labelsize=8.4, labelcolor=TXT)

# vertical marker lines through every pane
for a in (ax, ax2, ax3, ax4, ax5, ax6):
    for t in VLINE_T:
        a.axvline(t, color=DRAW, lw=2, zorder=7)
ax7.axvline(VLINE_T[0], ymin=-0.02, ymax=1, color=DRAW, lw=2, zorder=7, clip_on=False)
ax7.axvline(VLINE_T[1], ymin=-0.18, ymax=1, color=DRAW, lw=2, zorder=7, clip_on=False)

# frame, pane separators, price-scale border
for yy in (226, 316, 428.5, 529, 630, 731, 830):
    fig.add_artist(Line2D([fx(10), fx(1494)], [fy(yy), fy(yy)], color=BORDER, lw=1.5))
fig.add_artist(Line2D([fx(1427), fx(1427)], [fy(27), fy(857)], color=BORDER, lw=1))
fig.add_artist(Rectangle((fx(10), fy(857)), 1484 / W, 830 / H, fill=False, ec=BORDER, lw=1))

# header and legend
fig.text(fx(263), fy(14), "TradingView.com, Oct 01, 2024 21:12 UTC+2", ha='center', va='center',
         fontsize=8.4, color=TXT)
LEG_Y = fy(41)
fig.text(fx(18), LEG_Y, "Bitcoin / TetherUS, 1, BINANCE", va='center', fontsize=8.4, color=TXT)
for xpx, lab, val in [(198, "O", "61.815,99"), (265, "H", "61.840,00"),
                      (331, "L", "61.800,00"), (395, "C", "61.816,00")]:
    fig.text(fx(xpx), LEG_Y, lab, va='center', fontsize=8.4, color=TXT)
    fig.text(fx(xpx + 8), LEG_Y, val, va='center', fontsize=8.4, color="#22ab94")
fig.text(fx(460), LEG_Y, "0,00 (0,00%)", va='center', fontsize=8.4, color="#22ab94")

# price scale extras
fig.add_artist(FancyBboxPatch((14.30, (H - 56) / 100), 0.60, 0.24, boxstyle="round,pad=0,rounding_size=0.04",
                              transform=fig.dpi_scale_trans, fc='white', ec=BORDER, lw=1))
fig.text(fx(1439), fy(44), "USDT", va='center', fontsize=8.4, color=TXT)
fig.add_artist(Rectangle((fx(1427), fy(190)), 63 / W, 31 / H, fc=UP, ec='none', zorder=20))
fig.text(fx(1434), fy(168), fmt(LAST_PRICE), va='center', fontsize=8.6, color='white', zorder=21)
fig.text(fx(1434), fy(182), "00:08", va='center', fontsize=8.6, color='white', zorder=21)

# footer logo
fig.text(fx(11), fy(875), "TV", va='center', fontsize=9, weight='heavy', color=TXT)
fig.text(fx(32), fy(875), "TradingView", va='center', fontsize=8.4, color=TXT)

fig.savefig("out.png", dpi=100, facecolor="white")
